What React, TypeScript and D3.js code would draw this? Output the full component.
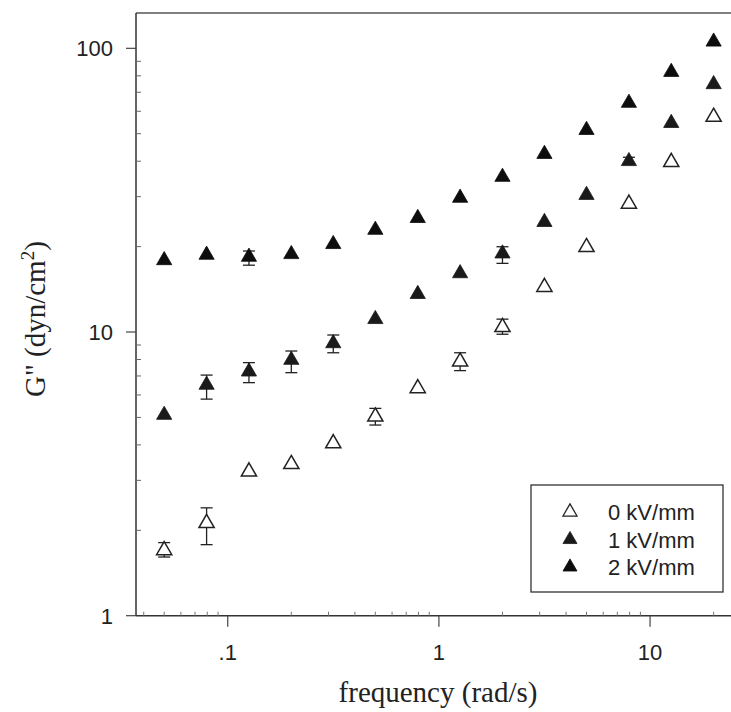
import React from "react";
import * as d3 from "d3";

const freqs = [0.05, 0.0794, 0.126, 0.2, 0.316, 0.5, 0.794, 1.26, 2, 3.16, 5, 7.94, 12.6, 20];
const g0 = [1.7, 2.12, 3.22, 3.42, 4.05, 5.03, 6.33, 7.86, 10.4, 14.4, 19.9, 28.3, 39.7, 57.3];
const g1 = [5.1, 6.51, 7.25, 7.97, 9.12, 11.1, 13.6, 16.1, 18.9, 24.4, 30.4, 40.0, 54.5, 74.7];
const g2 = [17.9, 18.7, 18.4, 18.8, 20.4, 22.9, 25.2, 29.7, 35.2, 42.4, 51.5, 64.2, 82.5, 105.5];

// error bars: [index, low, high]
const err0: [number, number, number][] = [[0, 1.61, 1.81], [1, 1.78, 2.4], [5, 4.7, 5.38], [7, 7.31, 8.45], [8, 9.82, 11.1]];
const err1: [number, number, number][] = [[1, 5.8, 7.05], [2, 6.63, 7.8], [3, 7.19, 8.57], [4, 8.45, 9.76], [8, 17.46, 19.98], [11, 39.0, 41.3]];
const err2: [number, number, number][] = [[2, 17.2, 19.3]];

const legendLabels = ["0 kV/mm", "1 kV/mm", "2 kV/mm"];
const xTickVals = [0.1, 1, 10];
const xTickLabels = [".1", "1", "10"];
const yTickVals = [1, 10, 100];
const yTickLabels = ["1", "10", "100"];

const W = 731, H = 712;
const left = 136, right = 731, top = 13, bottom = 615.7;

export default function App() {
  const x = d3.scaleLog().domain([0.03677, 24.17]).range([left, right]);
  const y = d3.scaleLog().domain([1, 133.2]).range([bottom, top]);
  const tri = d3.symbol(d3.symbolTriangle, 100)() as string;
  const triL = d3.symbol(d3.symbolTriangle, 85)() as string;

  const minorX: number[] = [];
  [0.01, 0.1, 1, 10].forEach((d) => {
    for (let k = 2; k <= 9; k++) {
      const v = d * k;
      if (v > 0.03677 && v < 24.17) minorX.push(v);
    }
  });
  const minorY: number[] = [];
  [1, 10, 100].forEach((d) => {
    for (let k = 2; k <= 9; k++) {
      const v = d * k;
      if (v < 133) minorY.push(v);
    }
  });

  const series = [
    { vals: g0, errs: err0, fill: "#fff", stroke: "#222" },
    { vals: g1, errs: err1, fill: "#1a1a1a", stroke: "#1a1a1a" },
    { vals: g2, errs: err2, fill: "#0d0d0d", stroke: "#0d0d0d" },
  ];

  const ink = "#222";
  return (
    <svg width={W} height={H} style={{ position: "absolute", left: 0, top: 0, background: "#fff" }}>
      <rect x={0} y={0} width={W} height={H} fill="#fff" />
      {/* frame */}
      <line x1={left} x2={right} y1={top} y2={top} stroke="#555" strokeWidth={1.3} />
      <line x1={left} x2={left} y1={top} y2={bottom} stroke="#333" strokeWidth={1.5} />
      <line x1={left} x2={right} y1={bottom} y2={bottom} stroke="#333" strokeWidth={1.5} />
      {/* x ticks */}
      {xTickVals.map((v, i) => (
        <g key={"xt" + i}>
          <line x1={x(v)} x2={x(v)} y1={bottom} y2={bottom + 11} stroke="#444" strokeWidth={1.2} />
          <text x={x(v)} y={660} textAnchor="middle" fontFamily="Liberation Sans, Arial, sans-serif" fontSize={22} fill={ink}>
            {xTickLabels[i]}
          </text>
        </g>
      ))}
      {minorX.map((v, i) => (
        <line key={"xm" + i} x1={x(v)} x2={x(v)} y1={bottom} y2={bottom - 4} stroke="#777" strokeWidth={1} />
      ))}
      {/* y ticks */}
      {yTickVals.map((v, i) => (
        <g key={"yt" + i}>
          <line x1={left - 10} x2={left} y1={y(v)} y2={y(v)} stroke="#444" strokeWidth={1.2} />
          <text x={113} y={y(v) + 8} textAnchor="end" fontFamily="Liberation Sans, Arial, sans-serif" fontSize={22} fill={ink}>
            {yTickLabels[i]}
          </text>
        </g>
      ))}
      {minorY.map((v, i) => (
        <line key={"ym" + i} x1={left} x2={left + 5} y1={y(v)} y2={y(v)} stroke="#666" strokeWidth={1} />
      ))}
      {/* axis titles */}
      <text x={438} y={702} textAnchor="middle" fontFamily="Liberation Serif, Times New Roman, serif" fontSize={29} fill={ink}>
        frequency (rad/s)
      </text>
      <text transform={`translate(45,${397}) rotate(-90)`} textAnchor="start" fontFamily="Liberation Serif, Times New Roman, serif" fontSize={29} fill={ink}>
        G" (dyn/cm<tspan dy={-11} fontSize={19}>2</tspan><tspan dy={11}>)</tspan>
      </text>
      {/* error bars */}
      {series.map((s, si) =>
        s.errs.map(([idx, lo, hi], j) => {
          const cx = x(freqs[idx]);
          return (
            <g key={`e${si}-${j}`} stroke="#222" strokeWidth={1.3}>
              <line x1={cx} x2={cx} y1={y(lo)} y2={y(hi)} />
              <line x1={cx - 6} x2={cx + 6} y1={y(lo)} y2={y(lo)} />
              <line x1={cx - 6} x2={cx + 6} y1={y(hi)} y2={y(hi)} />
            </g>
          );
        })
      )}
      {/* markers */}
      {series.map((s, si) =>
        s.vals.map((v, i) => (
          <path
            key={`m${si}-${i}`}
            d={tri}
            transform={`translate(${x(freqs[i])},${y(v)})`}
            fill={s.fill}
            stroke={s.stroke}
            strokeWidth={si === 0 ? 1.5 : 0.8}
          />
        ))
      )}
      {/* legend */}
      <rect x={531} y={485} width={192} height={107} fill="#fff" stroke="#333" strokeWidth={1.3} />
      {legendLabels.map((lab, i) => {
        const ry = 512 + i * 27.5;
        const s = series[i];
        return (
          <g key={"lg" + i}>
            <path d={triL} transform={`translate(570,${ry})`} fill={s.fill} stroke={s.stroke} strokeWidth={i === 0 ? 1.3 : 0.8} />
            <text x={608} y={ry + 8} fontFamily="Liberation Sans, Arial, sans-serif" fontSize={22} fill={ink}>
              {lab}
            </text>
          </g>
        );
      })}
    </svg>
  );
}
